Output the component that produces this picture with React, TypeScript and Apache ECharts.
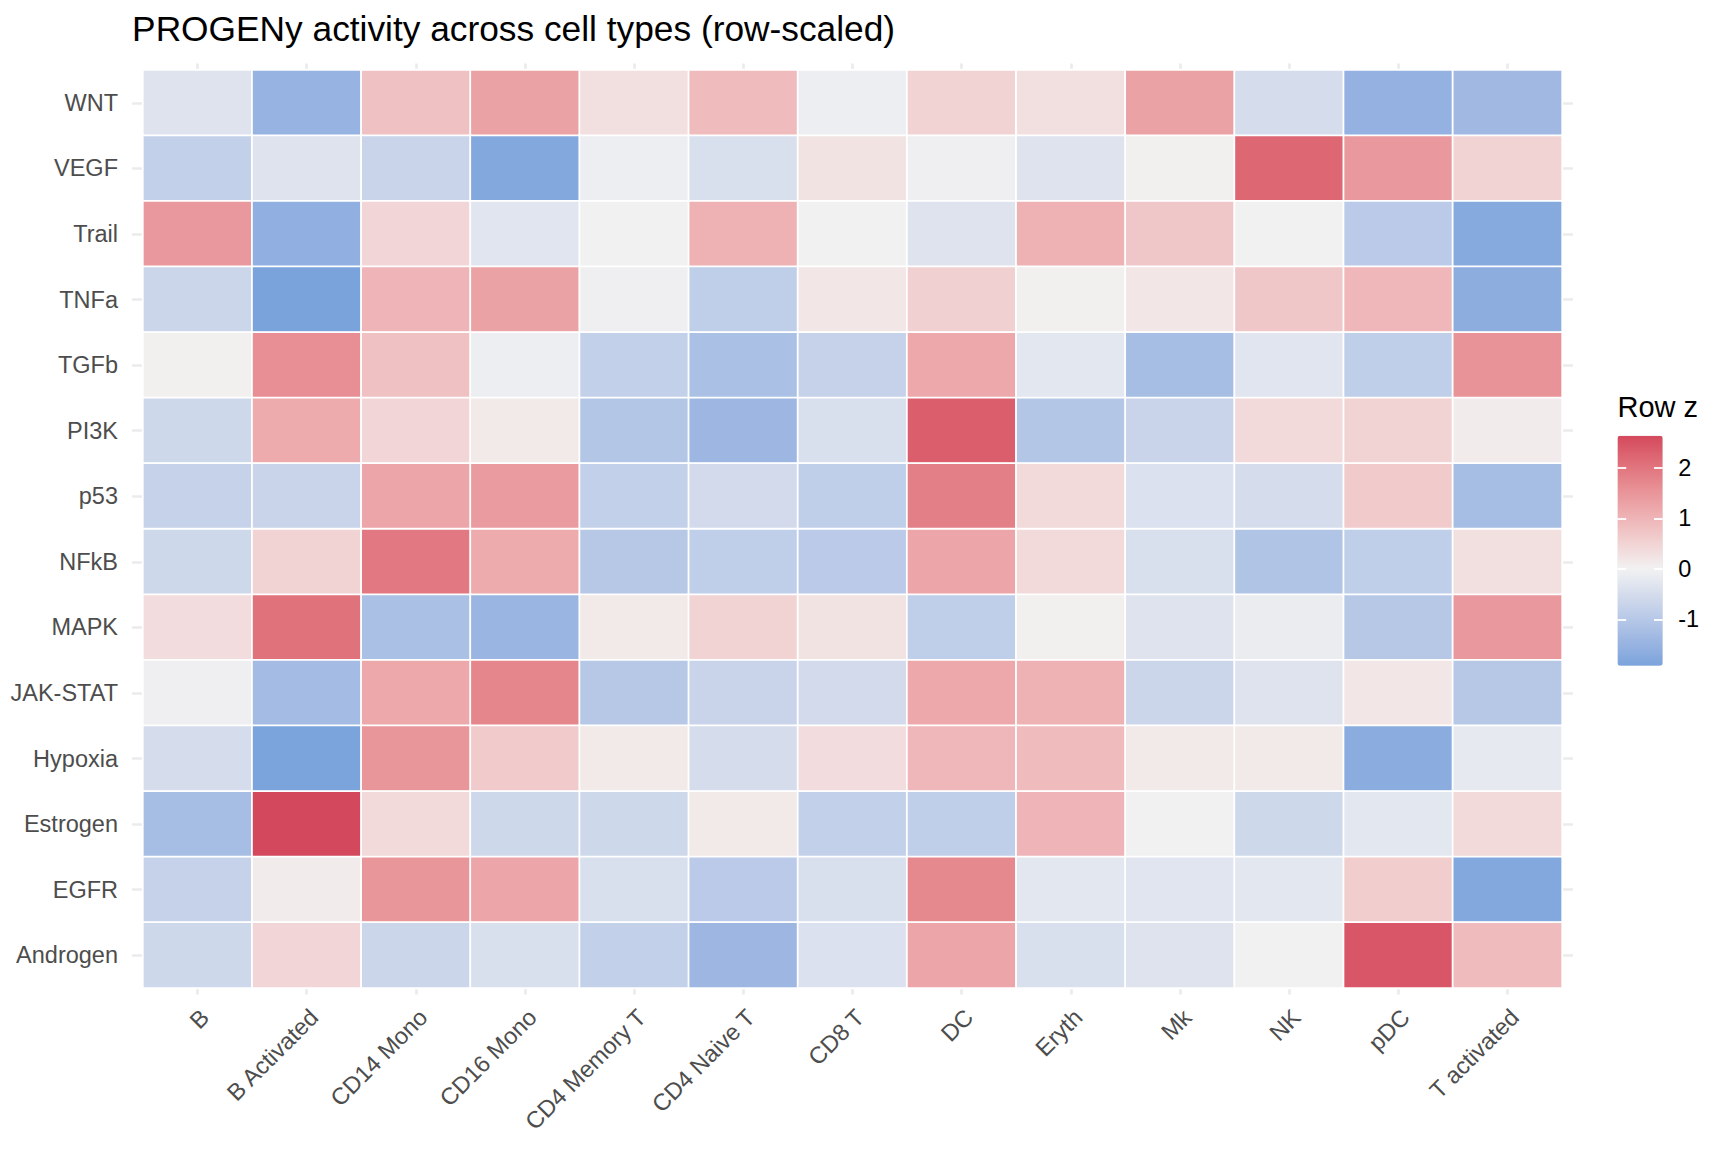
import { useEffect, useRef } from 'react';
import * as echarts from 'echarts';

// ---- data -------------------------------------------------------------
const cellTypes = [
  'B', 'B Activated', 'CD14 Mono', 'CD16 Mono', 'CD4 Memory T', 'CD4 Naive T',
  'CD8 T', 'DC', 'Eryth', 'Mk', 'NK', 'pDC', 'T activated',
];

// pathways listed top to bottom
const pathways = [
  'WNT', 'VEGF', 'Trail', 'TNFa', 'TGFb', 'PI3K', 'p53', 'NFkB', 'MAPK',
  'JAK-STAT', 'Hypoxia', 'Estrogen', 'EGFR', 'Androgen',
];

// row-scaled (z) activity per pathway, one value per cell type
const WNT = [-0.35, -1.5, 0.8, 1.3, 0.3, 0.9, -0.1, 0.5, 0.3, 1.3, -0.5, -1.55, -1.35];
const VEGF = [-0.8, -0.35, -0.7, -1.8, -0.1, -0.45, 0.25, -0.05, -0.35, 0.05, 2.2, 1.45, 0.5];
const Trail = [1.45, -1.6, 0.45, -0.3, 0.0, 1.05, 0.0, -0.35, 1.05, 0.7, 0.0, -0.95, -1.75];
const TNFa = [-0.65, -1.92, 1.0, 1.3, -0.05, -0.85, 0.2, 0.55, 0.05, 0.2, 0.7, 0.95, -1.65];
const TGFb = [0.05, 1.6, 0.8, -0.1, -0.8, -1.2, -0.75, 1.2, -0.25, -1.25, -0.3, -0.85, 1.55];
const PI3K = [-0.6, 1.15, 0.45, 0.15, -1.05, -1.4, -0.45, 2.35, -1.05, -0.7, 0.4, 0.5, 0.1];
const p53 = [-0.75, -0.7, 1.25, 1.4, -0.8, -0.55, -0.85, 1.85, 0.4, -0.4, -0.5, 0.65, -1.25];
const NFkB = [-0.6, 0.5, 1.95, 1.15, -1.0, -0.85, -0.95, 1.25, 0.4, -0.45, -1.1, -0.85, 0.3];
const MAPK = [0.35, 2.05, -1.2, -1.45, 0.15, 0.5, 0.25, -0.85, 0.05, -0.35, -0.15, -1.0, 1.45];
const JAK_STAT = [-0.05, -1.3, 1.2, 1.75, -1.0, -0.7, -0.55, 1.2, 1.05, -0.65, -0.35, 0.2, -1.0];
const Hypoxia = [-0.5, -1.9, 1.5, 0.65, 0.15, -0.5, 0.35, 0.95, 0.9, 0.15, 0.15, -1.7, -0.2];
const Estrogen = [-1.25, 2.64, 0.4, -0.6, -0.6, 0.15, -0.8, -0.85, 1.0, 0.0, -0.6, -0.25, 0.4];
const EGFR = [-0.75, 0.1, 1.5, 1.25, -0.45, -0.95, -0.45, 1.7, -0.25, -0.3, -0.25, 0.6, -1.8];
const Androgen = [-0.6, 0.45, -0.65, -0.45, -0.8, -1.4, -0.4, 1.25, -0.45, -0.35, 0.0, 2.45, 0.9];

const rowScores = [WNT, VEGF, Trail, TNFa, TGFb, PI3K, p53, NFkB, MAPK, JAK_STAT, Hypoxia, Estrogen, EGFR, Androgen];

const legendTicks = [-1, 0, 1, 2];

// ---- styling ----------------------------------------------------------
const FONT = '"Liberation Sans", Arial, Helvetica, sans-serif';
const LOW = '#3B87D3';
const MID = '#F2F2F2';
const HIGH = '#D4485D';

// tile area of the panel
const PLOT = { left: 143, top: 70, width: 1419, height: 918 };
// the panel extends a tenth of a cell past the tiles on every side
const EXPAND = 0.1;

// ---- diverging colour scale (Lab interpolation around 0) --------------
const WHITE_PT = [0.95047, 1, 1.08883];
const toLin = (c: number) => {
  const v = c / 255;
  return v <= 0.04045 ? v / 12.92 : Math.pow((v + 0.055) / 1.055, 2.4);
};
const fromLin = (c: number) => {
  const v = c <= 0.0031308 ? 12.92 * c : 1.055 * Math.pow(c, 1 / 2.4) - 0.055;
  return Math.round(Math.max(0, Math.min(1, v)) * 255);
};
const fLab = (t: number) => (t > 0.008856 ? Math.cbrt(t) : 7.787 * t + 16 / 116);
const fLabInv = (t: number) => (t * t * t > 0.008856 ? t * t * t : (t - 16 / 116) / 7.787);

function hexToLab(hex: string) {
  const n = parseInt(hex.slice(1), 16);
  const R = toLin((n >> 16) & 255);
  const G = toLin((n >> 8) & 255);
  const B = toLin(n & 255);
  const X = (0.4124 * R + 0.3576 * G + 0.1805 * B) / WHITE_PT[0];
  const Y = 0.2126 * R + 0.7152 * G + 0.0722 * B;
  const Z = (0.0193 * R + 0.1192 * G + 0.9505 * B) / WHITE_PT[2];
  const fx = fLab(X), fy = fLab(Y), fz = fLab(Z);
  return [116 * fy - 16, 500 * (fx - fy), 200 * (fy - fz)];
}

function labToHex([L, a, b]: number[]) {
  const fy = (L + 16) / 116;
  const fx = fy + a / 500;
  const fz = fy - b / 200;
  const X = fLabInv(fx) * WHITE_PT[0];
  const Y = fLabInv(fy);
  const Z = fLabInv(fz) * WHITE_PT[2];
  const r = fromLin(3.2406 * X - 1.5372 * Y - 0.4986 * Z);
  const g = fromLin(-0.9689 * X + 1.8758 * Y + 0.0415 * Z);
  const bl = fromLin(0.0557 * X - 0.204 * Y + 1.057 * Z);
  return '#' + [r, g, bl].map((v) => v.toString(16).padStart(2, '0')).join('');
}

const labLow = hexToLab(LOW);
const labMid = hexToLab(MID);
const labHigh = hexToLab(HIGH);
const mixLab = (a: number[], b: number[], t: number) => a.map((v, i) => v + (b[i] - v) * t);

const allValues = rowScores.flat();
const zMin = Math.min(...allValues);
const zMax = Math.max(...allValues);
const zAbs = Math.max(Math.abs(zMin), Math.abs(zMax));

function zColour(v: number) {
  const t = 0.5 + v / (2 * zAbs);
  if (t < 0.5) return labToHex(mixLab(labLow, labMid, t / 0.5));
  return labToHex(mixLab(labMid, labHigh, (t - 0.5) / 0.5));
}

const STOPS = 60;
const colourStops = Array.from({ length: STOPS }, (_, i) => zColour(zMin + ((zMax - zMin) * i) / (STOPS - 1)));

// ---- option ------------------------------------------------------------
function buildOption() {
  const cellW = PLOT.width / cellTypes.length;
  const cellH = PLOT.height / pathways.length;

  const heatData: [number, number, number][] = [];
  rowScores.forEach((row, r) => row.forEach((v, c) => heatData.push([c, r, v])));

  const axisText = { fontFamily: FONT, fontSize: 23.5, color: '#4D4D4D' };
  const gridLine = { show: true, lineStyle: { color: '#EBEBEB', width: 2.7 } };
  const hidden = { show: false };

  const legendGrid = { left: 1617.5, top: 435.7, width: 45.2, height: 230 };

  return {
    animation: false,
    backgroundColor: '#FFFFFF',
    textStyle: { fontFamily: FONT },
    title: [
      {
        text: 'PROGENy activity across cell types (row-scaled)',
        left: PLOT.left - EXPAND * cellW,
        top: 8,
        padding: 0,
        textStyle: { fontFamily: FONT, fontSize: 35.3, fontWeight: 'normal', color: '#000000', lineHeight: 40 },
      },
      {
        text: 'Row z',
        left: legendGrid.left,
        top: 390,
        padding: 0,
        textStyle: { fontFamily: FONT, fontSize: 29, fontWeight: 'normal', color: '#000000', lineHeight: 34 },
      },
    ],
    grid: [
      // tiles
      { left: PLOT.left, top: PLOT.top, width: PLOT.width, height: PLOT.height },
      // vertical guides through column centres, spanning the full panel height
      {
        left: PLOT.left + cellW / 2,
        top: PLOT.top - EXPAND * cellH,
        width: PLOT.width - cellW,
        height: PLOT.height + 2 * EXPAND * cellH,
      },
      // horizontal guides through row centres, spanning the full panel width
      {
        left: PLOT.left - EXPAND * cellW,
        top: PLOT.top + cellH / 2,
        width: PLOT.width + 2 * EXPAND * cellW,
        height: PLOT.height - cellH,
      },
      // colour bar ticks
      legendGrid,
    ],
    xAxis: [
      {
        type: 'category',
        gridIndex: 0,
        data: cellTypes,
        axisLine: hidden,
        axisTick: hidden,
        splitLine: hidden,
        axisLabel: {
          ...axisText,
          lineHeight: 21,
          interval: 0,
          rotate: 45,
          align: 'right',
          verticalAlign: 'top',
          margin: 18,
        },
      },
      {
        type: 'value',
        gridIndex: 1,
        min: 0,
        max: cellTypes.length - 1,
        interval: 1,
        axisLine: hidden,
        axisTick: hidden,
        axisLabel: hidden,
        splitLine: gridLine,
      },
      { type: 'value', gridIndex: 2, show: false },
      { type: 'value', gridIndex: 3, show: false },
    ],
    yAxis: [
      {
        type: 'category',
        gridIndex: 0,
        data: pathways,
        inverse: true,
        axisLine: hidden,
        axisTick: hidden,
        splitLine: hidden,
        axisLabel: { ...axisText, lineHeight: 26, interval: 0, margin: 25 },
      },
      { type: 'value', gridIndex: 1, show: false },
      {
        type: 'value',
        gridIndex: 2,
        min: 0,
        max: pathways.length - 1,
        interval: 1,
        axisLine: hidden,
        axisTick: hidden,
        axisLabel: hidden,
        splitLine: gridLine,
      },
      {
        type: 'value',
        gridIndex: 3,
        position: 'left',
        min: zMin,
        max: zMax,
        z: 10,
        axisLine: hidden,
        splitLine: hidden,
        axisLabel: hidden,
        axisTick: {
          show: true,
          inside: true,
          length: 8.7,
          customValues: legendTicks,
          lineStyle: { color: '#FFFFFF', width: 1.8 },
        },
      },
      {
        type: 'value',
        gridIndex: 3,
        position: 'right',
        min: zMin,
        max: zMax,
        z: 10,
        axisLine: hidden,
        splitLine: hidden,
        axisTick: {
          show: true,
          inside: true,
          length: 8.7,
          customValues: legendTicks,
          lineStyle: { color: '#FFFFFF', width: 1.8 },
        },
        axisLabel: {
          show: true,
          customValues: legendTicks,
          margin: 15.5,
          fontFamily: FONT,
          fontSize: 23.5,
          color: '#000000',
        },
      },
    ],
    visualMap: {
      type: 'continuous',
      seriesIndex: 0,
      dimension: 2,
      min: zMin,
      max: zMax,
      inRange: { color: colourStops },
      orient: 'vertical',
      left: legendGrid.left,
      top: legendGrid.top,
      itemWidth: legendGrid.width,
      itemHeight: legendGrid.height,
      padding: 0,
      calculable: false,
      hoverLink: false,
      text: null,
    },
    series: [
      {
        type: 'heatmap',
        xAxisIndex: 0,
        yAxisIndex: 0,
        data: heatData,
        itemStyle: { borderColor: '#FFFFFF', borderWidth: 1.8 },
        emphasis: { disabled: true },
        progressive: 0,
      },
    ],
  };
}

export default function App() {
  const ref = useRef<HTMLDivElement>(null);

  useEffect(() => {
    const chart = echarts.init(ref.current as HTMLDivElement, null, { renderer: 'svg' });
    chart.setOption(buildOption() as any);
    return () => chart.dispose();
  }, []);

  return (
    <div
      ref={ref}
      style={{ position: 'fixed', left: 0, top: 0, width: 1728, height: 1152, background: '#FFFFFF' }}
    />
  );
}
